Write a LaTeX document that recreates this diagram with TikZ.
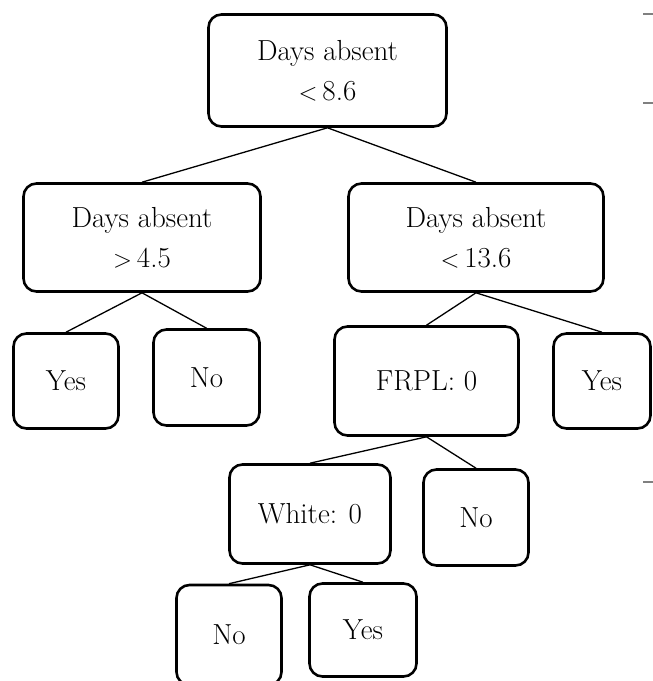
\documentclass[tikz,border=0pt]{standalone}
\usepackage{tikz}

\begin{document}
\begin{tikzpicture}[x=1pt, y=-1pt,
	box/.style={draw, line width=2.6pt, rounded corners=13pt, align=center, inner sep=0pt,
		font=\fontsize{29}{40}\selectfont},
	branch/.style={line width=1.3pt}]
	\clip (0,0) rectangle (653,681);

	\node[box, minimum width=238pt, minimum height=112pt] (root) at (327.5,70.5) {Days absent\\$<$\,8.6};

	\node[box, minimum width=237pt, minimum height=108pt] (left) at (142,237.5) {Days absent\\$>$\,4.5};
	\node[box, minimum width=255pt, minimum height=108pt] (right) at (476,237.5) {Days absent\\$<$\,13.6};

	\node[box, minimum width=105pt, minimum height=95pt] (yesA) at (66,381) {Yes};
	\node[box, minimum width=106pt, minimum height=96pt] (noA) at (206.5,377.5) {No};

	\node[box, minimum width=184pt, minimum height=109pt] (frpl) at (426.5,381) {FRPL: 0};
	\node[box, minimum width=97pt, minimum height=95pt] (yesB) at (602,381) {Yes};

	\node[box, minimum width=161pt, minimum height=99pt] (white) at (310,514) {White: 0};
	\node[box, minimum width=105pt, minimum height=96pt] (noB) at (476,517.5) {No};

	\node[box, minimum width=105pt, minimum height=100pt] (noC) at (229,635) {No};
	\node[box, minimum width=107pt, minimum height=93pt] (yesC) at (363,630) {Yes};

	\draw[branch] (root.south) -- (left.north);
	\draw[branch] (root.south) -- (right.north);
	\draw[branch] (left.south) -- (yesA.north);
	\draw[branch] (left.south) -- (noA.north);
	\draw[branch] (right.south) -- (frpl.north);
	\draw[branch] (right.south) -- (yesB.north);
	\draw[branch] (frpl.south) -- (white.north);
	\draw[branch] (frpl.south) -- (noB.north);
	\draw[branch] (white.south) -- (noC.north);
	\draw[branch] (white.south) -- (yesC.north);

	\draw[gray, line width=1.5pt] (643,14) -- (653,14);
	\draw[gray, line width=1.5pt] (643,103) -- (653,103);
	\draw[gray, line width=1.5pt] (643,482) -- (653,482);
\end{tikzpicture}
\end{document}
